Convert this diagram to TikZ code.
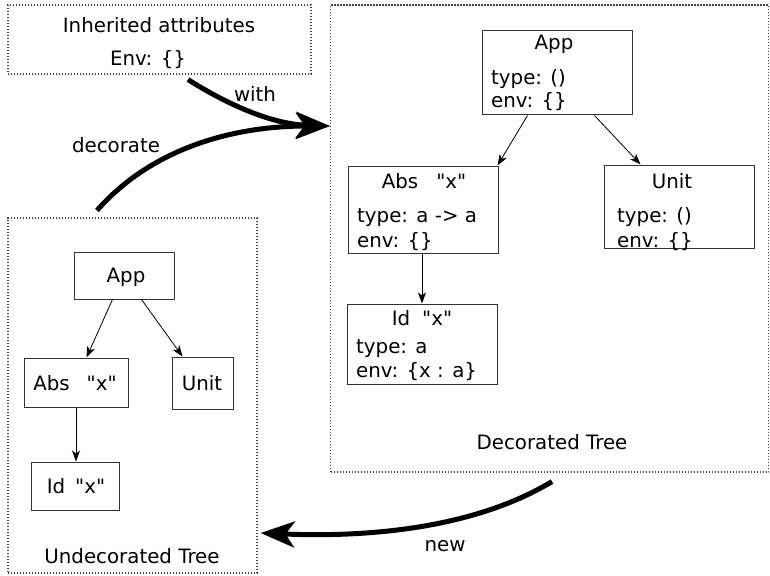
\documentclass[tikz,border=0pt]{standalone}
\usepackage{fontspec}
\newfontfamily\dejavu{DejaVu Sans}
\usetikzlibrary{arrows.meta}
\begin{document}
\begin{tikzpicture}[x=1pt,y=-1pt,
  font=\dejavu\fontsize{19.8pt}{23pt}\selectfont,
  frame/.style={draw=black!75, line width=1.1pt, dash pattern=on 1.2pt off 1.8pt, inner sep=0pt},
  tbox/.style={draw=black!80, line width=1pt, inner sep=0pt},
  txt/.style={inner sep=0pt, anchor=base},
  ltxt/.style={inner sep=0pt, anchor=base west},
  edge/.style={line width=0.8pt, -{Stealth[length=11pt,width=8pt,inset=3pt]}},
  big/.style={line width=5pt, -{Stealth[length=34pt,width=26pt,inset=9pt]}}
]
\useasboundingbox (0,0) rectangle (770,575);

% frames
\node[frame, minimum width=303pt, minimum height=69pt] (inh) at (159.5,39.5) {};
\node[frame, minimum width=438pt, minimum height=467pt] (dframe) at (549.5,238.5) {};
\node[frame, minimum width=249pt, minimum height=355pt] (uframe) at (132.5,395.5) {};

\node[txt] (inh-t) at (159,33) {Inherited attributes};
\node[txt] (inh-e) at (148,66) {Env: \{\}};
\node[txt] (dlab) at (552,449) {Decorated Tree};
\node[txt] (ulab) at (132,563) {Undecorated Tree};

% decorated tree
\node[tbox, minimum width=150pt, minimum height=84pt] (dapp) at (557,73) {};
\node[txt] (dapp-t) at (554,50) {App};
\node[ltxt] (dapp-1) at (491,85) {type: ()};
\node[ltxt] (dapp-2) at (491,107) {env: \{\}};

\node[tbox, minimum width=150pt, minimum height=87pt] (dabs) at (423,209.5) {};
\node[txt] (dabs-t) at (424,188) {Abs\hspace{18pt}"x"};
\node[ltxt] (dabs-1) at (357,222) {type: a -> a};
\node[ltxt] (dabs-2) at (357,247) {env: \{\}};

\node[tbox, minimum width=150pt, minimum height=83pt] (dunit) at (679,206.5) {};
\node[txt] (dunit-t) at (672,188) {Unit};
\node[ltxt] (dunit-1) at (617,222) {type: ()};
\node[ltxt] (dunit-2) at (617,247) {env: \{\}};

\node[tbox, minimum width=150pt, minimum height=80pt] (did) at (422,344) {};
\node[txt] (did-t) at (422,325) {Id\hspace{12pt}"x"};
\node[ltxt] (did-1) at (356,353) {type: a};
\node[ltxt] (did-2) at (356,377) {env: \{x : a\}};

\draw[edge] ([xshift=46pt]dapp.south west) -- ([xshift=-1pt]dabs.north east);
\draw[edge] ([xshift=113pt]dapp.south west) -- ([xshift=37pt]dunit.north west);
\draw[edge] (did.north |- dabs.south) -- (did.north);

% undecorated tree
\node[tbox, minimum width=100pt, minimum height=47pt] (uapp) at (124,275.5) {};
\node[txt] (uapp-t) at (126,282) {App};
\node[tbox, minimum width=104pt, minimum height=49pt] (uabs) at (76,382.5) {};
\node[txt] (uabs-t) at (75,390) {Abs\hspace{17pt}"x"};
\node[tbox, minimum width=61pt, minimum height=52pt] (uunit) at (202.5,383) {};
\node[txt] (uunit-t) at (202,390) {Unit};
\node[tbox, minimum width=88pt, minimum height=48pt] (uid) at (75,486) {};
\node[txt] (uid-t) at (76,493) {Id\hspace{10pt}"x"};

\draw[edge] ([xshift=39pt]uapp.south west) -- ([xshift=63pt]uabs.north west);
\draw[edge] ([xshift=68pt]uapp.south west) -- ([xshift=11pt]uunit.north west);
\draw[edge] (uabs.south) -- (uabs.south |- uid.north);

% big arrows
\coordinate (wstart) at ([xshift=28.5pt,yshift=-5pt]inh.south);
\coordinate (tip) at ([yshift=112.5pt]dframe.west);
\coordinate (dstart) at ([xshift=-35.5pt,yshift=7pt]uframe.north);
\coordinate (nstart) at ([xshift=2.5pt,yshift=-9pt]dframe.south);
\coordinate (ntip) at ([xshift=3pt,yshift=-137.5pt]uframe.east);

\draw[big] (wstart) .. controls (225,103) and (270,124) .. (tip);
\draw[big] (dstart) .. controls (150,150) and (230,126) .. (tip);
\draw[big] (nstart) .. controls (480,525) and (380,538) .. (ntip);

\node (with) at (255,94) {with};
\node (decorate) at (116,145) {decorate};
\node (new) at (445,546) {new};
\end{tikzpicture}
\end{document}
